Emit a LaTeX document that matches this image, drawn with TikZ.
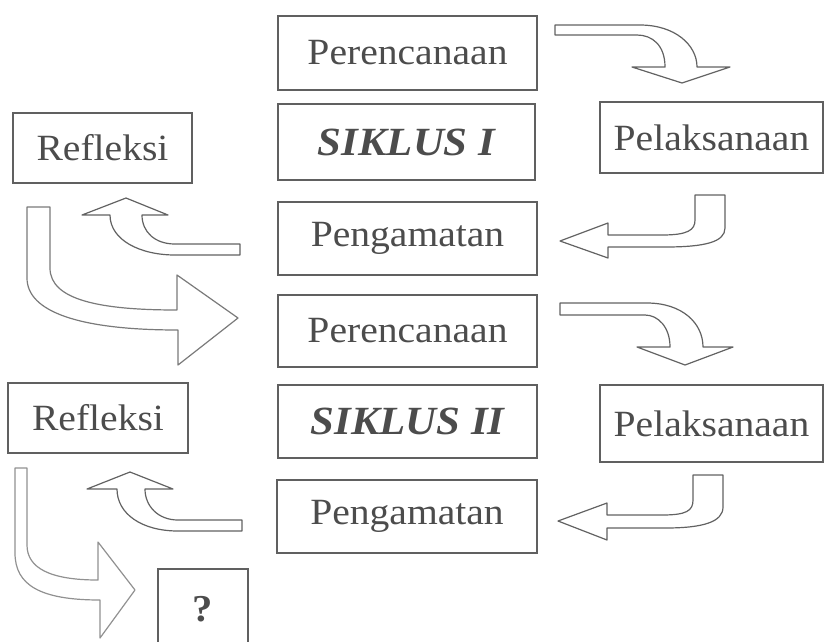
\documentclass[tikz,border=0pt]{standalone}
\usepackage{fontspec}
\setmainfont{Liberation Serif}[FakeStretch=1.07]
\definecolor{txt}{HTML}{4C4C4C}
\definecolor{edge}{HTML}{606060}
\definecolor{arr}{HTML}{626262}
\begin{document}
\begin{tikzpicture}[x=1pt,y=-1pt,
  box/.style={draw=edge,line width=1.2pt,inner sep=0pt,text=txt,
    font=\fontsize{37}{44}\selectfont},
  cyc/.style={box,font=\fontsize{40}{48}\selectfont\bfseries\itshape},
  bentarrow/.style={draw=arr,line width=1.2pt,line join=round,fill=white}]
\useasboundingbox (0,0) rectangle (826,641);
\clip (0,0) rectangle (826,641);
% boxes
\node[box,minimum width=259pt,minimum height=74pt] (per1) at (407.5,53) {Perencanaan};
\node[cyc,minimum width=257pt,minimum height=76pt] (sik1) at (406.5,142) {SIKLUS I};
\node[box,minimum width=259pt,minimum height=73pt] (pen1) at (407.5,238.5) {Pengamatan};
\node[box,minimum width=179pt,minimum height=70pt] (ref1) at (102.5,148) {Refleksi};
\node[box,minimum width=223pt,minimum height=71pt] (pel1) at (711.5,137.5) {Pelaksanaan};
\node[box,minimum width=259pt,minimum height=72pt] (per2) at (407.5,331) {Perencanaan};
\node[cyc,minimum width=259pt,minimum height=73pt] (sik2) at (407.5,421.5) {SIKLUS II};
\node[box,minimum width=260pt,minimum height=73pt] (pen2) at (407,516.5) {Pengamatan};
\node[box,minimum width=180pt,minimum height=70pt] (ref2) at (98,418) {Refleksi};
\node[box,minimum width=223pt,minimum height=77pt] (pel2) at (711.5,423.5) {Pelaksanaan};
\node[box,minimum width=90pt,minimum height=92pt,font=\fontsize{38}{44}\selectfont\bfseries] (q) at (203,615) {\raisebox{12pt}{?}};
% arrow Perencanaan I -> Pelaksanaan I
\draw[bentarrow] (555,25) -- (640,25) .. controls (675,25) and (697,45) .. (697,67)
  -- (730,67) -- (682,83) -- (632,67) -- (665,67)
  .. controls (665,45) and (652,35) .. (637,35) -- (555,35) -- cycle;
% arrow Pelaksanaan I -> Pengamatan I
\draw[bentarrow] (695,195) -- (725,195) -- (725,228)
  .. controls (725,242) and (705,247) .. (665,247) -- (608,247) -- (608,258)
  -- (560,241) -- (608,223) -- (608,235) -- (662,235)
  .. controls (688,235) and (695,230) .. (695,220) -- cycle;
% arrow Pengamatan I -> Refleksi I
\draw[bentarrow] (240,244) -- (175,244) .. controls (155,244) and (142,232) .. (142,215)
  -- (168,215) -- (126,198) -- (82,215) -- (110,215)
  .. controls (110,240) and (140,255) .. (175,255) -- (240,255) -- cycle;
% arrow Refleksi I -> Perencanaan II
\draw[bentarrow,draw=arr!85] (27,207) -- (50,207) -- (50,268)
  .. controls (50,300) and (100,310) .. (177,310) -- (177,275) -- (238,318)
  -- (178,365) -- (178,330) .. controls (80,330) and (27,312) .. (27,278) -- cycle;
% arrow Perencanaan II -> Pelaksanaan II
\draw[bentarrow] (560,303) -- (647,303) .. controls (682,303) and (703,323) .. (703,347)
  -- (733,347) -- (685,365) -- (637,347) -- (670,347)
  .. controls (670,327) and (658,315) .. (645,315) -- (560,315) -- cycle;
% arrow Pelaksanaan II -> Pengamatan II
\draw[bentarrow] (693,475) -- (723,475) -- (723,507)
  .. controls (723,522) and (703,528) .. (665,528) -- (607,528) -- (607,540)
  -- (558,521) -- (607,503) -- (607,515) -- (662,515)
  .. controls (686,515) and (693,511) .. (693,500) -- cycle;
% arrow Pengamatan II -> Refleksi II
\draw[bentarrow] (242,520) -- (178,520) .. controls (158,520) and (145,506) .. (145,489)
  -- (173,489) -- (130,472) -- (87,489) -- (117,489)
  .. controls (117,514) and (142,531) .. (178,531) -- (242,531) -- cycle;
% arrow Refleksi II -> ?
\draw[bentarrow,draw=arr!70] (15,468) -- (27,468) -- (27,545)
  .. controls (27,568) and (50,580) .. (98,580) -- (98,542) -- (135,590)
  -- (100,638) -- (100,600) .. controls (40,600) and (15,585) .. (15,553) -- cycle;
\end{tikzpicture}
\end{document}
